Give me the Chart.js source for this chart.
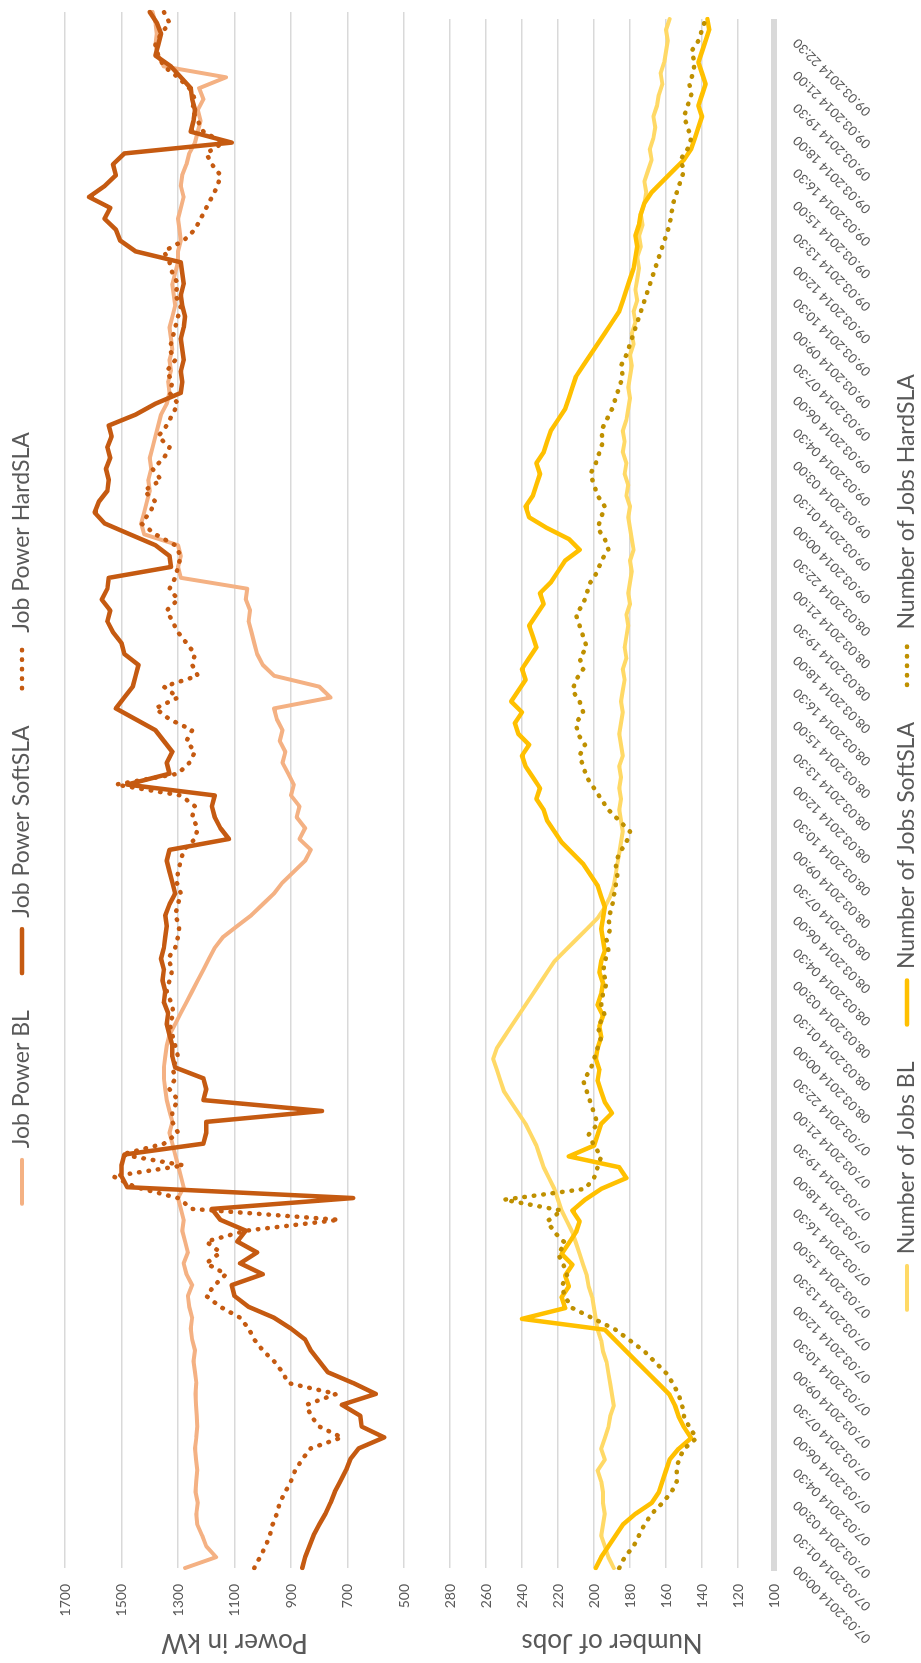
<!DOCTYPE html>
<html>
<head>
<meta charset="utf-8">
<title>Job Power and Number of Jobs</title>
<script src="https://cdn.jsdelivr.net/npm/chart.js@4.4.1/dist/chart.umd.min.js"></script>
<style>
  html, body { margin: 0; padding: 0; background: #fff; overflow: hidden; }
  /* the sheet is laid out landscape and turned a quarter turn to the left */
  #sheet {
    position: absolute; left: 0; top: 0;
    width: 1663px; height: 921px;
    transform-origin: 0 0;
    transform: translate(0, 1663px) rotate(-90deg);
    background: #fff;
  }
  #sheet canvas { display: block; }
</style>
</head>
<body>
<div id="sheet">
  <canvas id="powerChart" width="1663" height="427"></canvas>
  <canvas id="jobsChart" width="1663" height="494"></canvas>
</div>
<script>
// ============================================================
// Job power / number of jobs, 07.03.2014 - 09.03.2014 (30 min steps)
// ============================================================

const TICK_LABELS = [
  '07.03.2014 00:00', '07.03.2014 01:30', '07.03.2014 03:00', '07.03.2014 04:30',
  '07.03.2014 06:00', '07.03.2014 07:30', '07.03.2014 09:00', '07.03.2014 10:30',
  '07.03.2014 12:00', '07.03.2014 13:30', '07.03.2014 15:00', '07.03.2014 16:30',
  '07.03.2014 18:00', '07.03.2014 19:30', '07.03.2014 21:00', '07.03.2014 22:30',
  '08.03.2014 00:00', '08.03.2014 01:30', '08.03.2014 03:00', '08.03.2014 04:30',
  '08.03.2014 06:00', '08.03.2014 07:30', '08.03.2014 09:00', '08.03.2014 10:30',
  '08.03.2014 12:00', '08.03.2014 13:30', '08.03.2014 15:00', '08.03.2014 16:30',
  '08.03.2014 18:00', '08.03.2014 19:30', '08.03.2014 21:00', '08.03.2014 22:30',
  '09.03.2014 00:00', '09.03.2014 01:30', '09.03.2014 03:00', '09.03.2014 04:30',
  '09.03.2014 06:00', '09.03.2014 07:30', '09.03.2014 09:00', '09.03.2014 10:30',
  '09.03.2014 12:00', '09.03.2014 13:30', '09.03.2014 15:00', '09.03.2014 16:30',
  '09.03.2014 18:00', '09.03.2014 19:30', '09.03.2014 21:00', '09.03.2014 22:30'
];

// Power in kW
const powerBL = [
  1275, 1165, 1200, 1215, 1232, 1235, 1230, 1238, 1235, 1232, 1236, 1240, 1235, 1232, 1234, 1236, 1238, 1235,
  1240, 1245, 1240, 1250, 1255, 1250, 1260, 1265, 1250, 1270, 1280, 1265, 1275, 1285, 1280, 1290, 1300, 1280,
  1290, 1300, 1310, 1320, 1330, 1320, 1330, 1340, 1345, 1350, 1350, 1345,
  1340, 1330, 1310, 1290, 1270, 1250, 1230, 1210, 1190, 1170, 1140, 1090,
  1040, 1000, 960, 930, 890, 850, 830, 870, 850, 880, 870, 900, 890, 910, 930, 920, 940, 930, 950, 960,
  760, 800, 960, 1000, 1020, 1030, 1040, 1050, 1045, 1060,
  1055, 1290, 1300, 1290, 1300, 1420, 1430, 1420, 1410, 1400, 1405, 1395, 1400, 1390, 1380, 1370, 1360, 1340,
  1330, 1335, 1325, 1330, 1320, 1325, 1330, 1320, 1310, 1315, 1320, 1310, 1300,
  1300, 1290, 1295, 1300, 1290, 1280, 1290, 1285, 1270, 1260,
  1240, 1230, 1220, 1230, 1210, 1225, 1130, 1350, 1370, 1380, 1375, 1380, 1390
];
const powerSoftSLA = [
  860, 850, 835, 820, 800, 778, 760, 745, 725, 705, 690, 660, 570, 650, 655, 720, 600, 680,
  770, 800, 830, 850, 900, 960, 1050, 1100, 1110, 1000, 1080, 1020, 1090, 1060, 1150, 1180, 680, 1480,
  1500, 1500, 1490, 1210, 1200, 1200, 790, 1210, 1200, 1210, 1310, 1320,
  1320, 1330, 1340, 1335, 1350, 1345, 1355, 1350, 1360, 1350, 1345, 1340,
  1345, 1330, 1310, 1320, 1330, 1340, 1330, 1120, 1150, 1170, 1180, 1170,
  1480, 1330, 1340, 1320, 1350, 1380, 1450, 1520, 1490, 1460, 1450, 1440,
  1490, 1500, 1530, 1550, 1540, 1570, 1550, 1545, 1325, 1330, 1380, 1470,
  1560, 1595, 1580, 1550, 1545, 1555, 1540, 1550, 1535, 1545, 1450, 1380,
  1290, 1285, 1290, 1280, 1285, 1290, 1280, 1275, 1285, 1290, 1280, 1285, 1290,
  1450, 1505, 1520, 1560, 1540, 1615, 1560, 1520, 1530, 1490, 1110, 1255,
  1245, 1240, 1250, 1255, 1290, 1325, 1380, 1370, 1360, 1375, 1400
];
const powerHardSLA = [
  1030, 1010, 990, 975, 965, 950, 940, 920, 900, 885, 860, 830, 720, 800, 830, 845, 740, 910,
  930, 960, 1000, 1030, 1050, 1080, 1150, 1200, 1170, 1130, 1200, 1150, 1200, 1060, 730, 1250, 1300, 1450,
  1530, 1280, 1500, 1350, 1300, 1320, 1320, 1300, 1330, 1310, 1320, 1300,
  1310, 1320, 1330, 1315, 1325, 1340, 1330, 1320, 1335, 1310, 1300, 1295,
  1310, 1300, 1290, 1305, 1300, 1290, 1280, 1240, 1230, 1250, 1240, 1290,
  1520, 1300, 1260, 1240, 1270, 1250, 1330, 1380, 1300, 1350, 1230, 1250,
  1240, 1270, 1300, 1320, 1340, 1300, 1330, 1310, 1300, 1290, 1310, 1380,
  1430, 1400, 1380, 1420, 1360, 1390, 1350, 1330, 1370, 1340, 1320, 1300,
  1330, 1320, 1340, 1310, 1330, 1320, 1310, 1300, 1290, 1310, 1300, 1320, 1330,
  1350, 1280, 1240, 1220, 1200, 1180, 1160, 1150, 1180, 1200, 1140, 1210,
  1230, 1250, 1240, 1260, 1300, 1350, 1370, 1380, 1360, 1330, 1350
];

// Number of jobs
const jobsBL = [
  189, 192, 194, 196, 195, 194, 195, 195, 196, 198, 194, 196, 194, 192, 191, 189, 190, 191,
  192, 193, 195, 196, 198, 199, 200, 201, 203, 204, 206, 208, 210, 212, 215, 218, 220, 222,
  225, 228, 230, 232, 235, 238, 242, 246, 250, 252, 254, 256,
  254, 250, 246, 242, 238, 234, 230, 226, 222, 216, 210, 204,
  198, 194, 191, 189, 188, 187, 186, 185, 184, 185, 186, 185,
  186, 185, 186, 184, 185, 186, 185, 184, 185, 184, 183, 184,
  182, 183, 182, 181, 182, 180, 181, 180, 179, 180, 178, 179,
  180, 181, 180, 182, 181, 183, 182, 184, 183, 184, 182, 181,
  180, 181, 180, 179, 180, 178, 179, 177, 178, 176, 177, 176, 175,
  176, 174, 175, 173, 174, 172, 171, 172, 170, 168, 169, 167,
  166, 167, 165, 164, 162, 163, 161, 160, 159, 160, 158
];
const jobsSoftSLA = [
  199, 196, 192, 188, 184, 177, 168, 164, 162, 160, 158, 153, 146, 150, 153, 155, 158, 164,
  170, 176, 182, 188, 194, 240, 216, 218, 214, 216, 212, 218, 214, 210, 208, 212, 205, 196,
  182, 186, 214, 200, 198, 196, 190, 194, 196, 198, 197, 199,
  198, 196, 197, 195, 198, 196, 195, 197, 196, 194, 195, 196,
  195, 194, 196, 198, 202, 206, 212, 218, 222, 226, 228, 232,
  230, 234, 238, 240, 236, 242, 244, 240, 246, 242, 238, 240,
  236, 232, 234, 236, 232, 228, 230, 224, 220, 216, 208, 214,
  226, 236, 238, 234, 232, 230, 232, 228, 226, 224, 220, 216,
  214, 212, 210, 206, 202, 198, 194, 190, 186, 184, 182, 180, 178,
  177, 176, 177, 175, 174, 172, 168, 162, 156, 150, 146, 144,
  142, 140, 142, 140, 138, 140, 142, 140, 138, 136, 137
];
const jobsHardSLA = [
  186, 183, 178, 175, 172, 168, 162, 157, 154, 154, 153, 150, 143, 147, 150, 151, 153, 156,
  160, 166, 172, 180, 188, 200, 212, 216, 218, 215, 217, 220, 216, 222, 226, 218, 250, 205,
  200, 198, 196, 200, 203, 198, 200, 202, 204, 206, 202, 200,
  198, 196, 198, 194, 196, 195, 193, 195, 194, 192, 193, 191,
  192, 190, 189, 188, 187, 188, 186, 182, 180, 186, 192, 196,
  200, 204, 206, 208, 205, 209, 210, 206, 208, 212, 210, 206,
  208, 204, 206, 208, 210, 206, 204, 202, 198, 196, 192, 194,
  198, 196, 194, 198, 200, 202, 199, 197, 195, 196, 193, 190,
  188, 186, 184, 185, 182, 180, 178, 176, 174, 172, 170, 168, 166,
  164, 162, 160, 158, 157, 156, 154, 152, 150, 152, 148, 146,
  148, 150, 148, 146, 147, 145, 144, 146, 142, 140, 138
];

// one category every 30 minutes, a date label on every third one
const categories = powerBL.map((_, i) => (i % 3 === 0 ? TICK_LABELS[i / 3] : ''));

const FONT = "Lato, 'Open Sans', sans-serif";
const TEXT = '#595959';
const GRID = '#d9d9d9';
const LEGEND_FONT = 23;
const LEGEND_PAD = 14;
const LEGEND_GAP = '\u2002\u2002'; // extra room after each legend entry

Chart.defaults.font.family = FONT;
Chart.defaults.color = TEXT;

function series(label, data, color, width, dotted, order) {
  return {
    label,
    data,
    borderColor: color,
    backgroundColor: color,
    borderWidth: width,
    borderDash: dotted ? [0.5, 9] : [],
    borderCapStyle: 'round',
    borderJoinStyle: 'round',
    pointRadius: 0,
    tension: 0,
    fill: false,
    order
  };
}

// legend entries in dataset order, drawn with the line's own dash, spread apart
function legendItems(chart) {
  const items = Chart.defaults.plugins.legend.labels.generateLabels(chart);
  items.sort((a, b) => a.datasetIndex - b.datasetIndex);
  items.forEach((it, i) => {
    const ds = chart.data.datasets[it.datasetIndex];
    it.lineDash = ds.borderDash;
    it.lineCap = ds.borderCapStyle;
    it.lineWidth = ds.borderWidth;
    if (i < items.length - 1) it.text += LEGEND_GAP;
  });
  return items;
}

function legend(position) {
  return {
    position,
    labels: {
      color: TEXT,
      font: { size: LEGEND_FONT },
      padding: LEGEND_PAD,
      usePointStyle: true,
      pointStyle: 'line',
      pointStyleWidth: 44,
      generateLabels: legendItems
    }
  };
}

function valueAxis(min, max, step, title, width, titleShift) {
  return {
    min, max,
    ticks: {
      stepSize: step,
      color: TEXT,
      font: { size: 14, lineHeight: 1 },
      padding: 16,
      callback: (v) => String(v)
    },
    grid: { color: GRID, lineWidth: 1.5, drawTicks: false },
    border: { display: false },
    title: { display: true, text: title, color: TEXT, font: { size: 26 }, padding: { top: titleShift, bottom: 0 } },
    afterFit: (s) => { s.width = width; }
  };
}

// --- Power panel (legend on top, no date labels) ---
new Chart(document.getElementById('powerChart'), {
  type: 'line',
  data: {
    labels: categories,
    datasets: [
      series('Job Power BL', powerBL, '#F4B183', 4, false, 3),
      series('Job Power SoftSLA', powerSoftSLA, '#C55A11', 4.5, false, 2),
      series('Job Power HardSLA', powerHardSLA, '#C55A11', 4.5, true, 1)
    ]
  },
  options: {
    responsive: false,
    animation: false,
    layout: { padding: { top: 22 - LEGEND_PAD - LEGEND_FONT / 2, bottom: 8, left: 39, right: 12 } },
    plugins: { legend: legend('top'), tooltip: { enabled: false } },
    scales: {
      x: {
        position: 'top',
        ticks: { display: false },
        grid: { display: false },
        border: { display: false },
        afterFit: (s) => { s.height = 65 - (22 + LEGEND_FONT / 2 + 10); }
      },
      y: valueAxis(500, 1700, 200, 'Power in kW', 56, -34)
    }
  }
});

// --- Number of jobs panel (date axis and legend below) ---
new Chart(document.getElementById('jobsChart'), {
  type: 'line',
  data: {
    labels: categories,
    datasets: [
      series('Number of Jobs BL', jobsBL, '#FFD966', 4, false, 3),
      series('Number of Jobs SoftSLA', jobsSoftSLA, '#FFC000', 4.5, false, 2),
      series('Number of Jobs HardSLA', jobsHardSLA, '#BF9000', 4.5, true, 1)
    ]
  },
  options: {
    responsive: false,
    animation: false,
    layout: { padding: { top: 8, bottom: -7.5, left: -9, right: 12 } },
    plugins: { legend: legend('bottom'), tooltip: { enabled: false } },
    scales: {
      x: {
        ticks: {
          autoSkip: false,
          minRotation: 45,
          maxRotation: 45,
          color: TEXT,
          font: { size: 13 },
          padding: 8
        },
        grid: { display: false },
        border: { display: true, color: GRID, width: 6 },
        afterFit: (s) => { s.height = 107.5; }
      },
      y: valueAxis(100, 280, 20, 'Number of Jobs', 104, 14)
    }
  }
});
</script>
</body>
</html>
